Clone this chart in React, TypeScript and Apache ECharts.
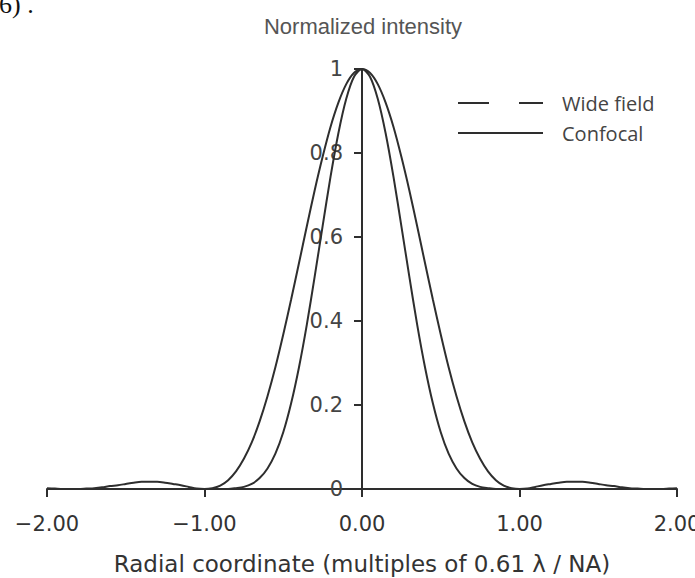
import React, { useEffect, useRef } from "react";
import * as echarts from "echarts";

const xCoords = [
  -2.0, -1.95, -1.9, -1.85, -1.8, -1.75, -1.7, -1.65, -1.6, -1.55, -1.5, -1.45, -1.4, -1.35, -1.3, -1.25, -1.2, -1.15, -1.1, -1.05,
  -1.0, -0.95, -0.9, -0.85, -0.8, -0.75, -0.7, -0.65, -0.6, -0.55, -0.5, -0.45, -0.4, -0.35, -0.3, -0.25, -0.2, -0.15, -0.1, -0.05,
  0.0,
  0.05, 0.1, 0.15, 0.2, 0.25, 0.3, 0.35, 0.4, 0.45, 0.5, 0.55, 0.6, 0.65, 0.7, 0.75, 0.8, 0.85, 0.9, 0.95, 1.0,
  1.05, 1.1, 1.15, 1.2, 1.25, 1.3, 1.35, 1.4, 1.45, 1.5, 1.55, 1.6, 1.65, 1.7, 1.75, 1.8, 1.85, 1.9, 1.95, 2.0,
];

const wideField = [
  0.002, 0.001, 0.0, 0.0, 0.0, 0.001, 0.002, 0.004, 0.007, 0.009, 0.012, 0.015, 0.017, 0.017, 0.017, 0.015, 0.012, 0.009, 0.005, 0.001,
  0.0, 0.002, 0.008, 0.021, 0.042, 0.072, 0.111, 0.161, 0.221, 0.29, 0.368, 0.451, 0.538, 0.626, 0.712, 0.791, 0.862, 0.92, 0.964, 0.991,
  1.0,
  0.991, 0.964, 0.92, 0.862, 0.791, 0.712, 0.626, 0.538, 0.451, 0.368, 0.29, 0.221, 0.161, 0.111, 0.072, 0.042, 0.021, 0.008, 0.002, 0.0,
  0.001, 0.005, 0.009, 0.012, 0.015, 0.017, 0.017, 0.017, 0.015, 0.012, 0.009, 0.007, 0.004, 0.002, 0.001, 0.0, 0.0, 0.0, 0.001, 0.002,
];

const confocal = [
  0.0, 0.0, 0.0, 0.0, 0.0, 0.0, 0.0, 0.0, 0.0, 0.0, 0.0, 0.0, 0.0, 0.0, 0.0, 0.0, 0.0, 0.0, 0.0, 0.0,
  0.0, 0.0, 0.0, 0.0, 0.002, 0.005, 0.012, 0.026, 0.049, 0.084, 0.135, 0.204, 0.29, 0.392, 0.507, 0.626, 0.743, 0.847, 0.929, 0.982,
  1.0,
  0.982, 0.929, 0.847, 0.743, 0.626, 0.507, 0.392, 0.29, 0.204, 0.135, 0.084, 0.049, 0.026, 0.012, 0.005, 0.002, 0.0, 0.0, 0.0, 0.0,
  0.0, 0.0, 0.0, 0.0, 0.0, 0.0, 0.0, 0.0, 0.0, 0.0, 0.0, 0.0, 0.0, 0.0, 0.0, 0.0, 0.0, 0.0, 0.0, 0.0,
];

const seriesNames = ["Wide field", "Confocal"];
const chartTitle = "Normalized intensity";
const xAxisTitle = "Radial coordinate (multiples of 0.61 \u03bb / NA)";
const cornerText = "6) .";

export default function App() {
  const ref = useRef<HTMLDivElement>(null);

  useEffect(() => {
    if (!ref.current) return;
    const chart = echarts.init(ref.current, null, { renderer: "svg" });
    const lineColor = "#2e2e2e";
    const gridLeft = 47;
    const gridRight = 18;
    const gridWidth = 695 - gridLeft - gridRight;
    const option = {
      animation: false,
      backgroundColor: "#ffffff",
      title: {
        text: chartTitle,
        left: 358,
        top: 10,
        textAlign: "center",
        textStyle: {
          fontFamily: "'Liberation Sans', Arial, sans-serif",
          fontSize: 22,
          fontWeight: "normal",
          color: "#555555",
        },
      },
      graphic: [
        {
          type: "text",
          x: -1,
          y: -9,
          style: {
            text: cornerText,
            font: "26px 'Liberation Serif', serif",
            fill: "#111111",
          },
        },
      ],
      legend: {
        orient: "vertical",
        left: 452,
        top: 88,
        itemWidth: 85,
        itemHeight: 18,
        itemGap: 10,
        textStyle: {
          fontFamily: "'Open Sans', sans-serif",
          fontSize: 20,
          color: "#444444",
          padding: [0, 0, 0, 14],
        },
        data: [
          {
            name: seriesNames[0],
            itemStyle: { opacity: 0, borderWidth: 0 },
            lineStyle: { type: [31, 30], width: 2, color: lineColor },
          },
          {
            name: seriesNames[1],
            itemStyle: { opacity: 0, borderWidth: 0 },
            lineStyle: { type: "solid", width: 2, color: lineColor },
          },
        ],
      },
      grid: {
        left: gridLeft,
        right: gridRight,
        top: 69,
        bottom: 89,
        containLabel: false,
        outerBoundsMode: "none",
      },
      xAxis: {
        type: "value",
        min: -2,
        max: 2,
        interval: 1,
        splitLine: { show: false },
        axisLine: { onZero: true, lineStyle: { color: lineColor, width: 2 } },
        axisTick: { show: true, length: 8, lineStyle: { color: lineColor, width: 2 } },
        axisLabel: {
          margin: 24,
          fontFamily: "'DejaVu Sans', Verdana, sans-serif",
          fontSize: 21,
          color: "#333333",
          hideOverlap: false,
          formatter: (v: number) => v.toFixed(2).replace("-", "\u2212"),
        },
        name: xAxisTitle,
        nameLocation: "middle",
        nameGap: 63,
        nameTextStyle: {
          fontFamily: "'DejaVu Sans', Verdana, sans-serif",
          fontSize: 23,
          color: "#333333",
        },
      },
      yAxis: {
        type: "value",
        min: 0,
        max: 1,
        interval: 0.2,
        offset: -gridWidth / 2,
        splitLine: { show: false },
        axisLine: { onZero: false, lineStyle: { color: lineColor, width: 2 } },
        axisTick: { show: true, length: 8, lineStyle: { color: lineColor, width: 2 } },
        axisLabel: {
          margin: 19,
          fontFamily: "'DejaVu Sans', Verdana, sans-serif",
          fontSize: 21,
          color: "#444444",
        },
      },
      series: [
        {
          name: seriesNames[0],
          type: "line",
          data: xCoords.map((x, i) => [x, wideField[i]]),
          showSymbol: false,
          symbol: "none",
          smooth: 0.3,
          lineStyle: { color: lineColor, width: 2 },
          itemStyle: { color: lineColor },
        },
        {
          name: seriesNames[1],
          type: "line",
          data: xCoords.map((x, i) => [x, confocal[i]]),
          showSymbol: false,
          symbol: "none",
          smooth: 0.3,
          lineStyle: { color: lineColor, width: 2 },
          itemStyle: { color: lineColor },
        },
      ],
    };
    chart.setOption(option as any);
    return () => chart.dispose();
  }, []);

  return (
    <div
      ref={ref}
      style={{ position: "absolute", left: 0, top: 0, width: 695, height: 578 }}
    />
  );
}
